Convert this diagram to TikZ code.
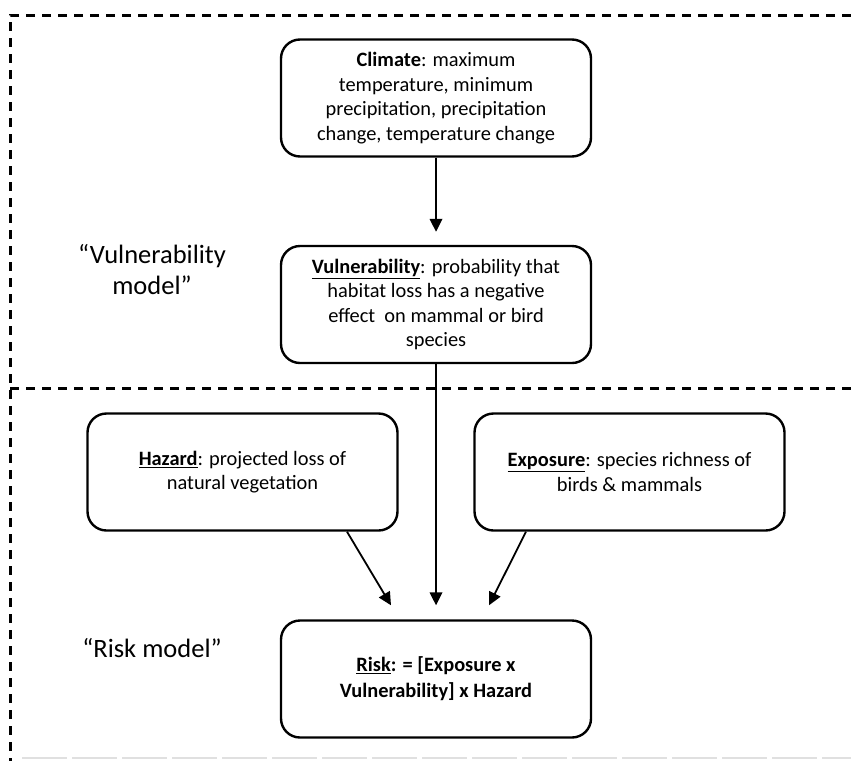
\documentclass[tikz,border=0pt]{standalone}
\usepackage{fontspec}
\setmainfont{Carlito}
\usetikzlibrary{arrows.meta,calc}
\begin{document}
\begin{tikzpicture}[x=1pt,y=-1pt,
  box/.style={draw=black,line width=2.4pt,rounded corners=19pt,minimum width=310pt,minimum height=117pt,inner sep=0pt,align=center,font=\fontsize{20.4}{24.5}\selectfont},
  lbl/.style={align=center,inner sep=0pt,font=\fontsize{26.5}{31}\selectfont},
  arr/.style={line width=1.8pt,-{Triangle[length=13pt,width=12.5pt]}},
  frame/.style={line width=3pt,dash pattern=on 9pt off 7pt},
  faint/.style={line width=1.4pt,draw=black!12,dash pattern=on 45pt off 5pt}]
\useasboundingbox (0,0) rectangle (851,761);
% frame
\draw[frame] (851,15) -- (10,15) -- (10,761);
\draw[frame] (10,388) -- (851,388);
\draw[faint] (22,758) -- (851,758);
% nodes
\node[box] (clim) at (436,98) {\textbf{Climate}: maximum\\temperature, minimum\\precipitation, precipitation\\change, temperature change};
\node[box] (vul) at (436,304.5) {\underline{\textbf{Vulnerability}}: probability that\\habitat loss has a negative\\effect\ \ on mammal or bird\\species};
\node[box] (haz) at (242.5,472) {\underline{\textbf{Hazard}}: projected loss of\\natural vegetation};
\node[box] (expo) at (629.5,472) {\underline{\textbf{Exposure}}: species richness of\\birds \& mammals};
\node[box,font=\fontsize{20.4}{26}\selectfont\bfseries] (risk) at (436,679) {\underline{Risk}: = [Exposure x\\Vulnerability] x Hazard};
\node[lbl] (lv) at (152,270) {“Vulnerability\\model”};
\node[lbl] (lr) at (152,648) {“Risk model”};
% connector ends
\coordinate (t0) at ($(vul.north)+(0,-13)$);
\coordinate (t1) at ($(risk.north)+(-45,-14)$);
\coordinate (t2) at ($(risk.north)+(0,-14)$);
\coordinate (t3) at ($(risk.north)+(53,-14)$);
\coordinate (s1) at ($(haz.south)+(104.5,0)$);
\coordinate (s3) at ($(expo.south)+(-103.5,0)$);
% connectors
\draw[arr] (clim.south) -- (t0);
\draw[arr] (vul.south) -- (t2);
\draw[arr] (s1) -- (t1);
\draw[arr] (s3) -- (t3);
\end{tikzpicture}
\end{document}
